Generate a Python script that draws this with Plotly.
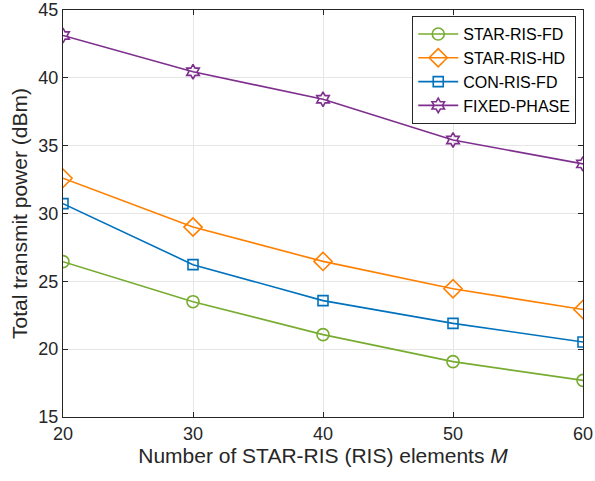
import plotly.graph_objects as go

M = [20, 30, 40, 50, 60]
star_fd = [26.45, 23.5, 21.07, 19.08, 17.7]
star_hd = [32.6, 29.0, 26.47, 24.45, 22.92]
con_fd = [30.73, 26.23, 23.58, 21.9, 20.53]
fixed = [43.12, 40.45, 38.42, 35.42, 33.66]

names = ["STAR-RIS-FD", "STAR-RIS-HD", "CON-RIS-FD", "FIXED-PHASE"]
colors = ["#77AC30", "#FF8000", "#0072BD", "#7E2F8E"]
symbols = ["circle-open", "diamond-open", "square-open", "hexagram-open"]
sizes = [12, 14, 10, 11]
series = [star_fd, star_hd, con_fd, fixed]

fig = go.Figure()
for n, c, s, sz, y in zip(names, colors, symbols, sizes, series):
    fig.add_trace(go.Scatter(
        x=M, y=y, name=n, mode="lines+markers",
        line=dict(color=c, width=1.6),
        marker=dict(symbol=s, size=sz, color=c, line=dict(width=1.6, color=c)),
    ))

axis_common = dict(
    showline=True, linecolor="#262626", linewidth=1, mirror="ticks",
    ticks="inside", ticklen=5, tickcolor="#262626",
    showgrid=True, gridcolor="#E6E6E6", gridwidth=1, zeroline=False,
    automargin=False,
    tickfont=dict(family="Liberation Sans, Arial", size=18, color="#262626"),
)

fig.update_layout(
    width=595, height=481,
    margin=dict(l=63, r=12, t=10, b=64, autoexpand=False),
    paper_bgcolor="white", plot_bgcolor="white",
    font=dict(family="Liberation Sans, Arial", color="#262626"),
    xaxis=dict(range=[20, 60], tickvals=[20, 30, 40, 50, 60],
               title=dict(text="Number of STAR-RIS (RIS) elements <i>M</i>",
                          font=dict(size=21), standoff=5),
               **axis_common),
    yaxis=dict(range=[15, 45], tickvals=[15, 20, 25, 30, 35, 40, 45],
               title=dict(text="Total transmit power (dBm)",
                          font=dict(size=21), standoff=5),
               **axis_common),
    legend=dict(x=0.987, y=0.985, xanchor="right", yanchor="top",
                bgcolor="white", bordercolor="#262626", borderwidth=1,
                font=dict(size=16, color="#000000"),
                itemwidth=40, tracegroupgap=0),
    showlegend=True,
)

fig.write_html(
    "out.html",
    config={"displayModeBar": False},
    post_script="document.body.style.margin='0';document.body.style.overflow='hidden';",
)
